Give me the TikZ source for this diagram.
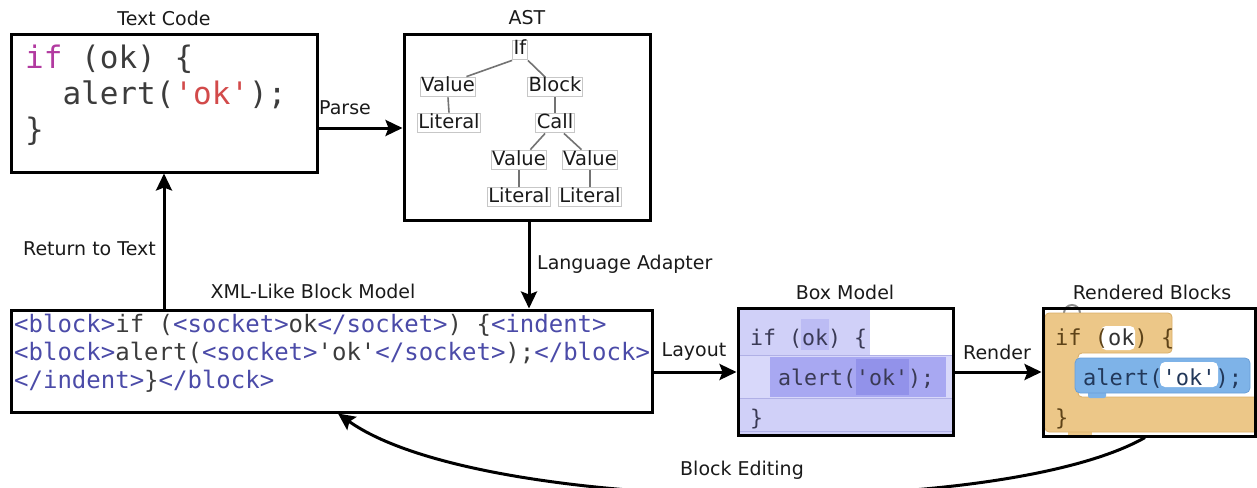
\documentclass[tikz,border=0pt]{standalone}
\usepackage{fontspec}
\setmainfont{DejaVu Sans}
\newfontfamily\codefont{DejaVu Sans Mono}[Ligatures=TeXOff]
\usetikzlibrary{arrows.meta,calc}

\definecolor{kw}{HTML}{B23AA0}
\definecolor{strc}{HTML}{D24A4A}
\definecolor{codegray}{HTML}{3C3C3C}
\definecolor{labelgray}{HTML}{1A1A1A}
\definecolor{tagblue}{HTML}{4B4BA8}
\definecolor{bmrow}{HTML}{D0D0F8}
\definecolor{bmlight}{HTML}{D8D8FA}
\definecolor{bminner}{HTML}{A8A8F2}
\definecolor{bmsock}{HTML}{9292EA}
\definecolor{bmok}{HTML}{BCBCF4}
\definecolor{bmline}{HTML}{B0B0E6}
\definecolor{bmtext}{HTML}{3A3A55}
\definecolor{tanfill}{HTML}{ECC788}
\definecolor{tanedge}{HTML}{D9AE68}
\definecolor{blkfill}{HTML}{7EB3E8}
\definecolor{blkedge}{HTML}{6A9FD8}
\definecolor{blktext}{HTML}{22385A}
\definecolor{iftext}{HTML}{5E4318}

\newcommand\xtag[1]{\textcolor{tagblue}{#1}}

\begin{document}
\begin{tikzpicture}[x=1pt,y=-1pt,
  frame/.style={draw=black, line width=3pt, inner sep=0pt},
  caption/.style={font=\fontsize{19}{22}\selectfont, text=labelgray, inner sep=0pt},
  conn/.style={line width=3pt, -{Stealth[length=17pt,width=16pt,inset=3pt]}},
  bigcode/.style={font=\codefont\fontsize{31}{36}\selectfont, text=codegray, inner sep=0pt, anchor=base west},
  xmlcode/.style={font=\codefont\fontsize{24}{28}\selectfont, text=codegray, inner sep=0pt, anchor=base west},
  bmcode/.style={font=\codefont\fontsize{21.6}{26}\selectfont, text=bmtext, inner sep=0pt, anchor=base west},
  rbcode/.style={font=\codefont\fontsize{22}{26}\selectfont, inner sep=0pt, anchor=base west},
  astn/.style={draw=black!22, line width=1.2pt, inner xsep=1pt, inner ysep=0.8pt,
    text height=14pt, text depth=4pt, font=\fontsize{19.5}{22}\selectfont, text=black!90},
  astedge/.style={draw=black!55, line width=1.6pt}]

\useasboundingbox (0,0) rectangle (1257,487);
\clip (0,0) rectangle (1257,487);

% ---------- Text Code ----------
\node[bigcode] (tc1) at (25,68) {\textcolor{kw}{if} (ok) \{};
\node[bigcode] (tc2) at (62.3,104) {alert(\textcolor{strc}{'ok'});};
\node[bigcode] (tc3) at (25,140) {\}};

% ---------- AST ----------
\node[astn] (if)   at (520,50)  {If};
\node[astn] (v1)   at (448,87)  {Value};
\node[astn] (blk)  at (555,87)  {Block};
\node[astn] (l1)   at (449,123) {Literal};
\node[astn] (call) at (555,123) {Call};
\node[astn] (v2)   at (519,160) {Value};
\node[astn] (v3)   at (590,160) {Value};
\node[astn] (l2)   at (519,197) {Literal};
\node[astn] (l3)   at (590,197) {Literal};
\draw[astedge] (if.south west) -- ($(v1.north)!0.65!(v1.north east)$);
\draw[astedge] (if.south east) -- ($(blk.north)!0.37!(blk.north west)$);
\draw[astedge] (v1.south) -- (l1.north);
\draw[astedge] (blk.south) -- (call.north);
\draw[astedge] ($(call.south)!0.5!(call.south west)$) -- ($(v2.north)!0.4!(v2.north east)$);
\draw[astedge] ($(call.south)!0.45!(call.south east)$) -- ($(v3.north)!0.3!(v3.north west)$);
\draw[astedge] (v2.south) -- (l2.north);
\draw[astedge] (v3.south) -- (l3.north);

% ---------- XML-like block model ----------
\node[xmlcode] (x1) at (14,332) {\xtag{<block>}if (\xtag{<socket>}ok\xtag{</socket>}) \{\xtag{<indent>}};
\node[xmlcode] (x2) at (14,360) {\xtag{<block>}alert(\xtag{<socket>}'ok'\xtag{</socket>});\xtag{</block>}};
\node[xmlcode] (x3) at (14,388) {\xtag{</indent>}\}\xtag{</block>}};

% ---------- Box model ----------
\fill[bmrow]   (738,308) rectangle (870,355);
\fill[bmlight] (738,355) rectangle (953,398);
\fill[bminner] (770,357) rectangle (946,397);
\fill[bmsock]  (856,359) rectangle (909,395);
\fill[bmok]    (801,319) rectangle (829,350);
\fill[bmrow]   (738,398) rectangle (953,435);
\draw[bmline, line width=1pt] (738,355.5) -- (953,355.5);
\draw[bmline, line width=1pt] (738,398) -- (953,398);
\draw[bmline, line width=1pt] (738,431) -- (953,431);
\node[bmcode] (bm1) at (750,345) {if (ok) \{};
\node[bmcode] (bm2) at (778,385) {alert('ok');};
\node[bmcode] (bm3) at (750,425) {\}};

% ---------- Rendered blocks ----------
\draw[black!45, line width=2pt] (1064,313) arc (180:360:8);
\fill[tanfill] (1068,428) rectangle (1092,437);
\filldraw[fill=tanfill, draw=tanedge, line width=0.8pt, rounded corners=4pt]
  (1045,313) -- (1172,313) -- (1172,353) -- (1078,353) -- (1078,397)
  -- (1258,397) -- (1258,432) -- (1045,432) -- cycle;
\fill[blkfill, rounded corners=2pt] (1088,388) rectangle (1106,398);
\filldraw[fill=blkfill, draw=blkedge, line width=0.8pt, rounded corners=5pt] (1075,358) rectangle (1250,393);
\fill[white, rounded corners=5pt] (1101,326) rectangle (1135,350);
\fill[white, rounded corners=5pt] (1160,362) rectangle (1218,387);
\node[rbcode, text=iftext] (rb1) at (1055,345) {if (\textcolor{black!80}{ok}) \{};
\node[rbcode, text=blktext] (rb2) at (1083,385) {alert('ok');};
\node[rbcode, text=iftext] (rb3) at (1055,425) {\}};

% ---------- Frames ----------
\node[frame, minimum width=306pt, minimum height=137pt] (tc)  at (164,103.5) {};
\node[frame, minimum width=246pt, minimum height=185pt] (ast) at (527,127.5) {};
\node[frame, minimum width=641pt, minimum height=102pt] (xml) at (331.5,361) {};
\node[frame, minimum width=215pt, minimum height=127pt] (bm)  at (845.5,371.5) {};
\node[frame, minimum width=212pt, minimum height=128pt] (rb)  at (1149,372) {};

% ---------- Captions ----------
\node[caption] (tccap)  at (164,18)  {Text Code};
\node[caption] (astcap) at (527,18)  {AST};
\node[caption] (xmlcap) at (313,291) {XML-Like Block Model};
\node[caption] (bmcap)  at (845,292) {Box Model};
\node[caption] (rbcap)  at (1152,292) {Rendered Blocks};

% ---------- Connectors ----------
\coordinate (parsey) at (0,128);
\coordinate (adaptx) at (529,0);
\coordinate (backx)  at (164,0);
\coordinate (layy)   at (0,372);
\coordinate (edits)  at (1145,0);
\coordinate (edite)  at (338,0);

\draw[conn] (tc.east |- parsey) -- (ast.west |- parsey);
\draw[conn] (ast.south -| adaptx) -- (xml.north -| adaptx);
\draw[conn] (xml.north -| backx) -- (tc.south -| backx);
\draw[conn] (xml.east |- layy) -- (bm.west |- layy);
\draw[conn] (bm.east |- layy) -- (rb.west |- layy);
\draw[conn] (rb.south -| edits) .. controls (1000,520) and (480,515) .. (xml.south -| edite);

\node[caption] (parsel)  at (345,108) {Parse};
\node[caption, anchor=east] (backl) at (156,249) {Return to Text};
\node[caption, anchor=west] (adaptl) at (537,264) {Language Adapter};
\node[caption] (layl)    at (694,352) {Layout};
\node[caption] (renl)    at (997,352) {Render};
\node[caption] (editl)   at (742,470) {Block Editing};
\end{tikzpicture}
\end{document}
